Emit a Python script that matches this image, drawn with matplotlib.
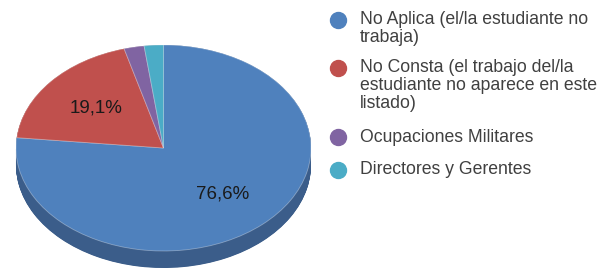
import numpy as np
import matplotlib
matplotlib.use("Agg")
import matplotlib.pyplot as plt
from matplotlib.lines import Line2D

categories = [
    "No Aplica (el/la estudiante no\ntrabaja)",
    "No Consta (el trabajo del/la\nestudiante no aparece en este\nlistado)",
    "Ocupaciones Militares",
    "Directores y Gerentes",
]
values = [76.6, 19.1, 2.2, 2.1]
colors = ["#4f81bd", "#c0504d", "#8064a2", "#4bacc6"]
side_colors = ["#3b5d8a", "#8e3b39", "#5f4a79", "#387f93"]

W, H = 600, 270
fig = plt.figure(figsize=(W / 100, H / 100), dpi=100)

# pie geometry in pixels
left_px, right_px = 16, 311
top_px, cy_px = 45, 148
b_px = cy_px - top_px
depth_px = 17
d = depth_px / b_px
bottom_px = cy_px + b_px + depth_px

ax = fig.add_axes([left_px / W, (H - bottom_px) / H,
                   (right_px - left_px) / W, (bottom_px - top_px) / H])

# side (depth) of the pie
for k in np.linspace(-d, 0, 40):
    ax.pie(values, colors=side_colors, startangle=90, counterclock=False,
           center=(0, k), radius=1, wedgeprops=dict(linewidth=0))

def fmt(p):
    return (f"{p:.1f}%".replace(".", ",")) if p > 10 else ""

wedges, texts, autotexts = ax.pie(
    values, colors=colors, startangle=90, counterclock=False,
    center=(0, 0), radius=1, autopct=fmt, pctdistance=0.6,
    wedgeprops=dict(linewidth=0.6, edgecolor=(1, 1, 1, 0.35)),
    textprops=dict(fontsize=13.5, color="#1a1a1a", family="Liberation Sans"))

ax.set_aspect("auto")
ax.set_xlim(-1, 1)
ax.set_ylim(-1 - d, 1)
ax.axis("off")

# legend drawn manually
marker_x = 338
text_x = 360
entry_y = [20, 68, 137, 170]
line_h = 18
for cat, col, y0 in zip(categories, colors, entry_y):
    fig.add_artist(Line2D([marker_x / W], [1 - y0 / H], marker="o",
                          markersize=11.5, color=col, linestyle="none",
                          transform=fig.transFigure))
    for i, line in enumerate(cat.split("\n")):
        fig.text(text_x / W, 1 - (y0 + i * line_h) / H, line,
                 fontsize=12.7, color="#404040", family="Liberation Sans",
                 va="center", ha="left")

fig.savefig("out.png", dpi=100)
